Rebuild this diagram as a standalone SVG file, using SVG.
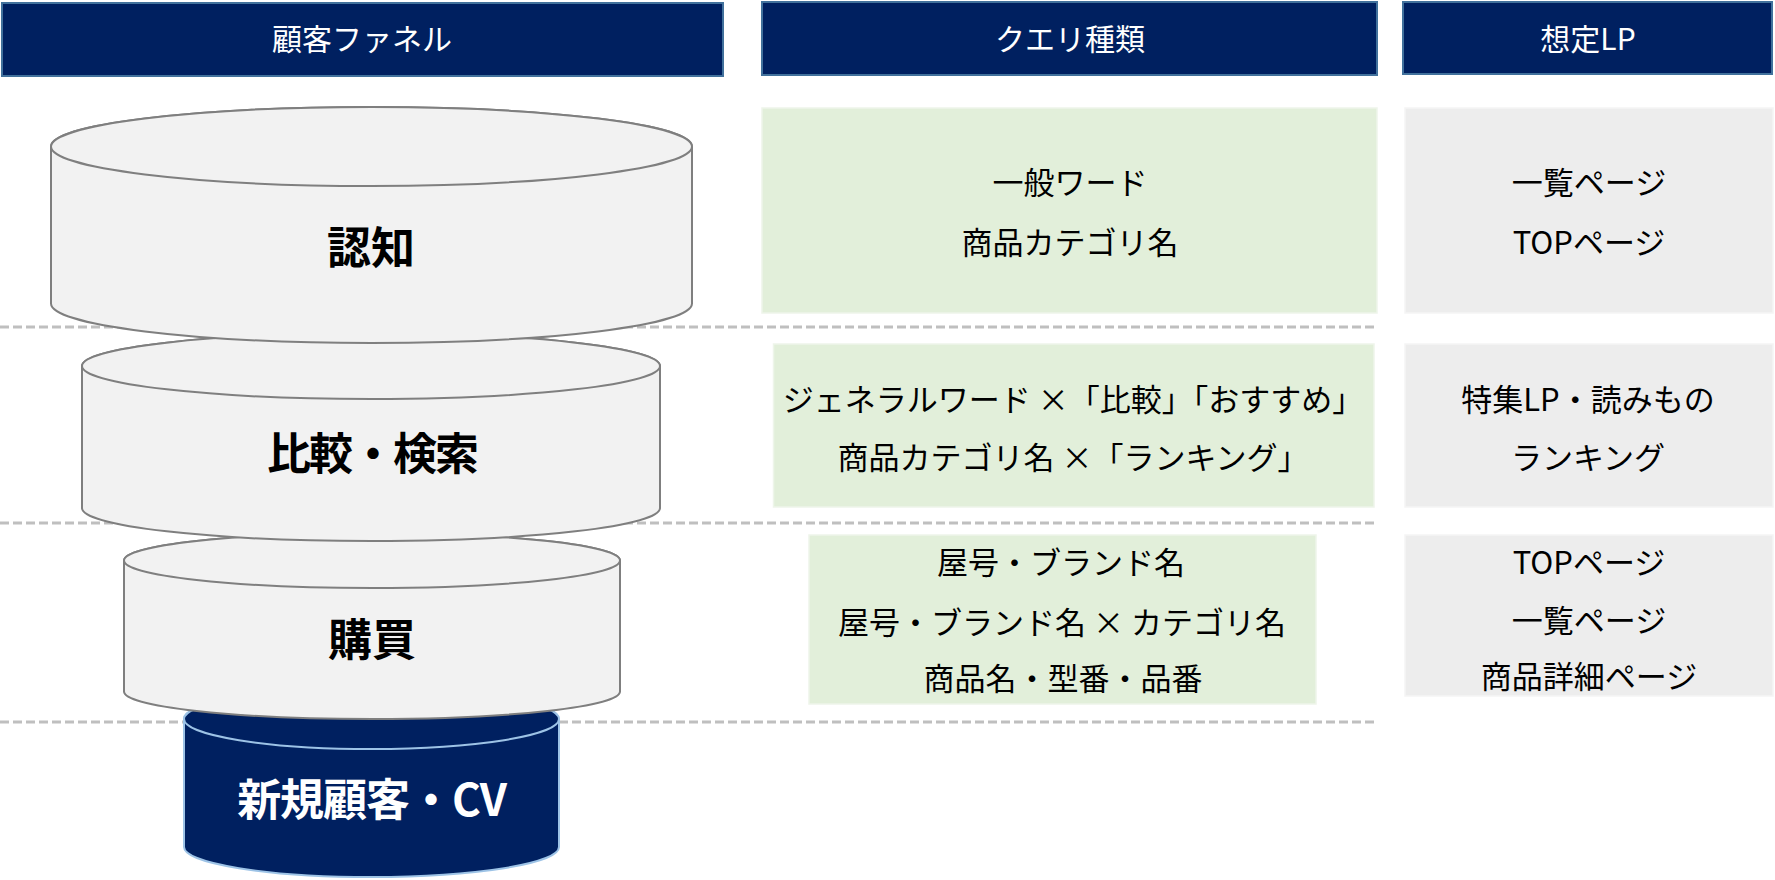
<svg xmlns="http://www.w3.org/2000/svg" width="1775" height="880" viewBox="0 0 1775 880">
<style>
.hdr{fill:#002060;stroke:#41719C;stroke-width:2}
.hdrt{fill:#FFFFFF;font-family:"Noto Sans CJK JP","Noto Sans",sans-serif;font-size:30px;text-anchor:middle}
.cyl{fill:#F2F2F2;stroke:#7F7F7F;stroke-width:2}
.cylN{fill:#002060;stroke:#9DC3E6;stroke-width:2}
.lbl{fill:#000000;font-family:"Noto Sans CJK JP","Noto Sans",sans-serif;font-size:44px;font-weight:700;text-anchor:middle}
.lblW{fill:#FFFFFF;font-family:"Noto Sans CJK JP","Noto Sans",sans-serif;font-size:44px;font-weight:700;text-anchor:middle}
.green{fill:#E2EFDA;stroke:#EEF5EA;stroke-width:1.5}
.gray{fill:#EDEDED;stroke:#F5F5F5;stroke-width:1.5}
.txt{fill:#000000;font-family:"Noto Sans CJK JP","Noto Sans",sans-serif;font-size:31px;text-anchor:middle}
.dash{stroke:#BFBFBF;stroke-width:3;stroke-dasharray:9 4;fill:none}
</style>

<g id="connectors">
<line class="dash" x1="0" y1="327" x2="1377" y2="327"/>
<line class="dash" x1="0" y1="523" x2="1377" y2="523"/>
<line class="dash" x1="0" y1="722" x2="1377" y2="722"/>
</g>

<g id="header-funnel">
<rect class="hdr" x="2" y="3" width="721" height="73"/>
<text class="hdrt" x="362" y="50">顧客ファネル</text>
</g>
<g id="header-query">
<rect class="hdr" x="762" y="2" width="615" height="73"/>
<text class="hdrt" x="1070" y="50">クエリ種類</text>
</g>
<g id="header-lp">
<rect class="hdr" x="1403" y="2" width="369" height="72"/>
<text class="hdrt" x="1588" y="50">想定LP</text>
</g>

<g id="cyl-cv">
<path class="cylN" d="M184,719 L184,847 A187.5,30 0 0 0 559,847 L559,719 A187.5,30 0 0 0 184,719 Z"/>
<ellipse class="cylN" cx="371.5" cy="719" rx="187.5" ry="30"/>
<text class="lblW" x="371.5" y="816" letter-spacing="-1">新規顧客・CV</text>
</g>

<g id="cyl-purchase">
<path class="cyl" d="M124,560.5 L124,691.5 A248,27.5 0 0 0 620,691.5 L620,560.5 A248,27.5 0 0 0 124,560.5 Z"/>
<ellipse class="cyl" cx="372" cy="560.5" rx="248" ry="27.5"/>
<text class="lbl" x="372" y="656">購買</text>
</g>

<g id="cyl-compare">
<path class="cyl" d="M82,366 L82,508 A289,33 0 0 0 660,508 L660,366 A289,33 0 0 0 82,366 Z"/>
<ellipse class="cyl" cx="371" cy="366" rx="289" ry="33"/>
<text class="lbl" x="372" y="470" letter-spacing="-2">比較・検索</text>
</g>

<g id="cyl-aware">
<path class="cyl" d="M51,146.5 L51,303.5 A320.5,39.5 0 0 0 692,303.5 L692,146.5 A320.5,39.5 0 0 0 51,146.5 Z"/>
<ellipse class="cyl" cx="371.5" cy="146.5" rx="320.5" ry="39.5"/>
<text class="lbl" x="371" y="264">認知</text>
</g>

<g id="query-1">
<rect class="green" x="762" y="108" width="615" height="205"/>
<text class="txt" x="1070" y="194">一般ワード</text>
<text class="txt" x="1070" y="254">商品カテゴリ名</text>
</g>
<g id="lp-1">
<rect class="gray" x="1405" y="108" width="368" height="205"/>
<text class="txt" x="1589" y="194">一覧ページ</text>
<text class="txt" x="1589" y="254">TOPページ</text>
</g>

<g id="query-2">
<rect class="green" x="773.5" y="344" width="600.5" height="163"/>
<text class="txt" x="1073" y="411">ジェネラルワード ×「比較」「おすすめ」</text>
<text class="txt" x="1073" y="469">商品カテゴリ名 ×「ランキング」</text>
</g>
<g id="lp-2">
<rect class="gray" x="1405" y="344" width="368" height="163"/>
<text class="txt" x="1588" y="411">特集LP・読みもの</text>
<text class="txt" x="1588" y="469">ランキング</text>
</g>

<g id="query-3">
<rect class="green" x="809" y="535" width="507" height="169"/>
<text class="txt" x="1061" y="574">屋号・ブランド名</text>
<text class="txt" x="1062" y="634">屋号・ブランド名 × カテゴリ名</text>
<text class="txt" x="1063" y="690">商品名・型番・品番</text>
</g>
<g id="lp-3">
<rect class="gray" x="1405" y="535" width="368" height="161"/>
<text class="txt" x="1589" y="574">TOPページ</text>
<text class="txt" x="1589" y="632">一覧ページ</text>
<text class="txt" x="1589" y="688">商品詳細ページ</text>
</g>
</svg>
